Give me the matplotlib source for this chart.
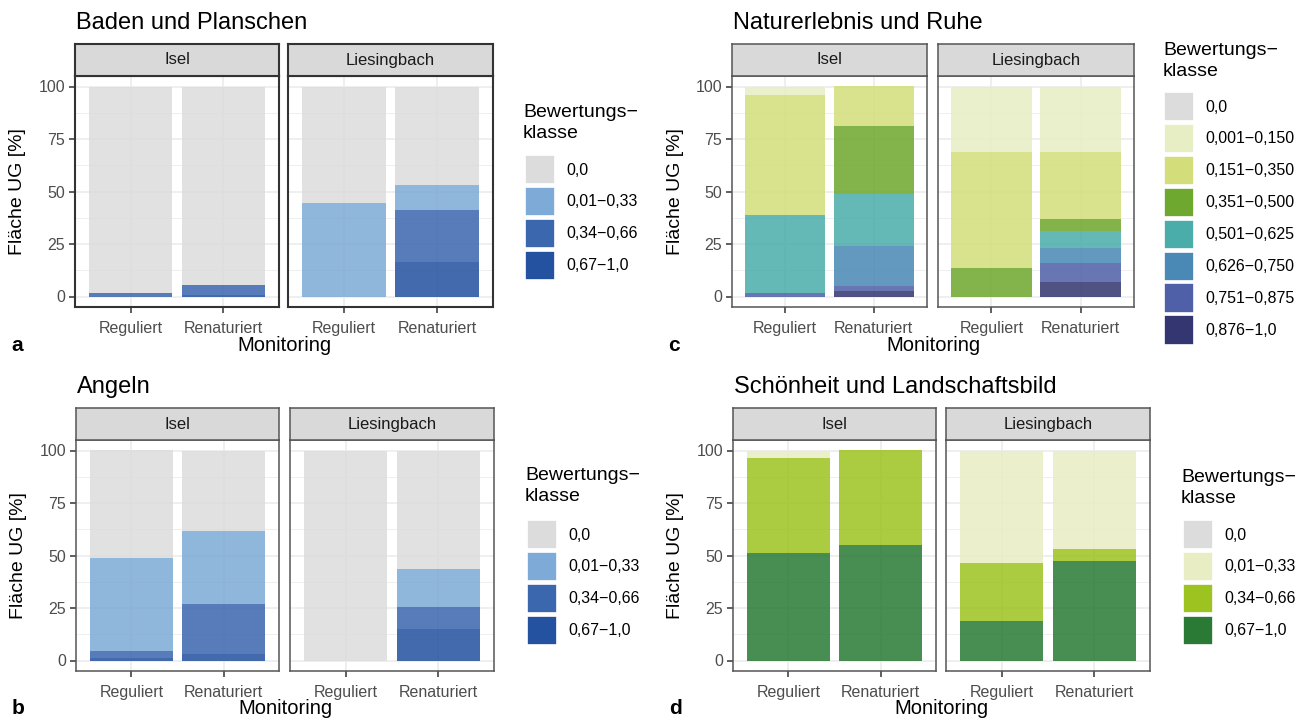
import matplotlib.pyplot as plt
from matplotlib.patches import Patch
import numpy as np

plt.rcParams['font.family'] = ['Liberation Sans', 'DejaVu Sans']

W, H = 1306, 720

# --- data (percent of area per rating class, class order as in legend) ---
FACETS = ['Isel', 'Liesingbach']
MONITORING = ['Reguliert', 'Renaturiert']

KLASSEN_4 = ['0,0', '0,01−0,33', '0,34−0,66', '0,67−1,0']
KLASSEN_8 = ['0,0', '0,001−0,150', '0,151−0,350', '0,351−0,500',
             '0,501−0,625', '0,626−0,750', '0,751−0,875', '0,876−1,0']

FARBEN_BLAU = ['#DCDCDC', '#7DAAD6', '#3B67AE', '#2452A0']
FARBEN_NATUR = ['#DCDCDC', '#E8EEC4', '#D3DE7A', '#6FA82E',
                '#4AADAA', '#4A88B5', '#5060A8', '#333670']
FARBEN_GRUEN = ['#DCDCDC', '#E9EDC4', '#9DC320', '#2A7A35']

# [facet][monitoring][class]
baden = [[[98.2, 0, 1.8, 0], [94.6, 0, 4.9, 0.5]],
         [[55.3, 44.7, 0, 0], [46.7, 12.2, 24.9, 16.2]]]
angeln = [[[51.1, 44.5, 3.4, 1.0], [38.4, 34.6, 24.1, 2.9]],
          [[100, 0, 0, 0], [56.2, 18.4, 10.6, 14.8]]]
natur = [[[0, 4.1, 57.2, 0, 37.2, 0, 1.5, 0], [0, 0, 19.0, 32.0, 25.0, 18.8, 2.7, 2.5]],
         [[0, 31.3, 54.9, 13.8, 0, 0, 0, 0], [0, 31.4, 31.9, 5.7, 7.7, 7.3, 9.3, 6.7]]]
schoen = [[[0, 3.8, 44.8, 51.4], [0, 0, 44.8, 55.2]],
          [[0, 53.8, 27.5, 18.7], [0, 46.7, 6.0, 47.3]]]

LEG_FS = 11.5


def box(x0, y0, x1, y1):
    return [x0 / W, 1 - y1 / H, (x1 - x0) / W, (y1 - y0) / H]


def draw_panel(title, letter, klassen, farben, werte, facet_x, top, bottom,
               legend_title_xy, legend_keys_xy, frame_col, frame_lw):
    strip_top = top - 32
    for i, (x0, x1) in enumerate(facet_x):
        ax = fig.add_axes(box(x0, top, x1, bottom))
        vals = np.array(werte[i], dtype=float)
        pos = np.arange(len(MONITORING))
        cum = np.zeros(len(MONITORING))
        # ggplot stacks first level on top -> draw last class first
        for k in reversed(range(len(klassen))):
            ax.bar(pos, vals[:, k], bottom=cum, width=0.9, color=farben[k],
                   alpha=0.86, linewidth=0)
            cum += vals[:, k]
        ax.set_xlim(-0.6, 1.6)
        ax.set_ylim(-5, 105)
        ax.set_xticks(pos)
        ax.set_xticklabels(MONITORING)
        ax.set_yticks([0, 25, 50, 75, 100])
        ax.set_yticks([12.5, 37.5, 62.5, 87.5], minor=True)
        ax.grid(which='major', color='#EBEBEB', linewidth=1.1)
        ax.grid(which='minor', axis='y', color='#EBEBEB', linewidth=0.55)
        ax.set_axisbelow(True)
        ax.tick_params(which='minor', length=0)
        ax.tick_params(which='major', length=4, width=1.1, color='#333333',
                       labelcolor='#4D4D4D', labelsize=11.5, pad=3)
        ax.tick_params(axis='x', pad=6)
        if i > 0:
            ax.tick_params(axis='y', length=0, labelleft=False)
        for sp in ax.spines.values():
            sp.set_color(frame_col)
            sp.set_linewidth(frame_lw)

        st = fig.add_axes(box(x0, strip_top, x1, top))
        st.set_facecolor('#D9D9D9')
        st.set_xticks([])
        st.set_yticks([])
        for sp in st.spines.values():
            sp.set_color(frame_col)
            sp.set_linewidth(frame_lw)
        st.text(0.5, 0.5, FACETS[i], ha='center', va='center', fontsize=12,
                color='#1A1A1A', transform=st.transAxes)

    left = facet_x[0][0]
    right = facet_x[-1][1]
    fig.text((left + 1) / W, 1 - (strip_top - 21) / H, title, fontsize=17,
             ha='left', va='center')
    fig.text((left - 57) / W, 1 - ((top + bottom) / 2) / H, 'Fläche UG [%]',
             fontsize=14, rotation=90, ha='center', va='center')
    fig.text(((left + right) / 2) / W, 1 - (bottom + 38) / H, 'Monitoring',
             fontsize=14.5, ha='center', va='center')
    fig.text((left - 64) / W, 1 - (bottom + 38) / H, letter, fontsize=15,
             fontweight='bold', ha='left', va='center')

    # legend title drawn separately for exact spacing
    fig.text(legend_title_xy[0] / W, 1 - legend_title_xy[1] / H,
             'Bewertungs−\nklasse', fontsize=14, ha='left', va='top',
             linespacing=1.3)
    handles = [Patch(facecolor=c, edgecolor='white', linewidth=1.2) for c in farben]
    fig.legend(handles, klassen, loc='upper left',
               bbox_to_anchor=(legend_keys_xy[0] / W, 1 - legend_keys_xy[1] / H),
               frameon=False, fontsize=LEG_FS, handlelength=1.85,
               handleheight=2.45, labelspacing=0.16, handletextpad=0.75,
               borderpad=0, borderaxespad=0)


fig = plt.figure(figsize=(W / 100, H / 100), dpi=100)

draw_panel('Baden und Planschen', 'a', KLASSEN_4, FARBEN_BLAU, baden,
           [(75, 279), (288, 493)], 76, 307, (523, 104), (525, 155),
           '#333333', 1.5)
draw_panel('Angeln', 'b', KLASSEN_4, FARBEN_BLAU, angeln,
           [(76, 279), (290, 494)], 440, 671, (525, 467), (527, 520),
           '#555555', 1.1)
draw_panel('Naturerlebnis und Ruhe', 'c', KLASSEN_8, FARBEN_NATUR, natur,
           [(732, 927), (938, 1134)], 76, 307, (1163, 42), (1164, 92),
           '#555555', 1.1)
draw_panel('Schönheit und Landschaftsbild', 'd', KLASSEN_4, FARBEN_GRUEN, schoen,
           [(733, 936), (946, 1150)], 440, 671, (1181, 469), (1183, 520),
           '#555555', 1.1)

fig.savefig('out.png', dpi=100)
